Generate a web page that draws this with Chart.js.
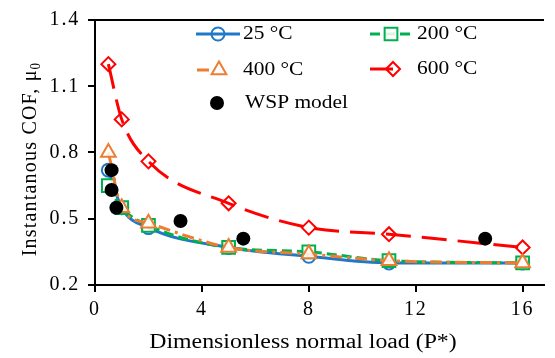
<!DOCTYPE html>
<html>
<head>
<meta charset="utf-8">
<script src="https://cdn.jsdelivr.net/npm/chart.js@4/dist/chart.umd.min.js"></script>
<style>
  html, body { margin: 0; padding: 0; background: #fff; }
  #wrap { width: 555px; height: 358px; }
</style>
</head>
<body>
<div id="wrap"><canvas id="c" width="555" height="358"></canvas></div>
<script>
// Dimensionless normal load P* for the measured series
const loads = [0.5, 1, 2, 5, 8, 11, 16];

// Instantaneous COF at each temperature
const cof25  = [0.72, 0.55, 0.46, 0.37, 0.33, 0.30, 0.30];
const cof200 = [0.65, 0.55, 0.47, 0.37, 0.35, 0.31, 0.30];
const cof400 = [0.80, 0.55, 0.48, 0.37, 0.34, 0.31, 0.30];
const cof600 = [1.20, 0.95, 0.76, 0.57, 0.46, 0.43, 0.37];

// WSP model predictions
const wspLoad = [0.62, 0.62, 0.80, 3.20, 5.55, 14.6];
const wspCof  = [0.72, 0.63, 0.55, 0.49, 0.41, 0.41];

// Axis ticks
const xTicks = [0, 4, 8, 12, 16];
const yTicks = [0.2, 0.5, 0.8, 1.1, 1.4];

const seriesNames = ['25 °C', '200 °C', '400 °C', '600 °C', 'WSP model'];
const xTitle = 'Dimensionless normal load (P*)';
const yTitle = 'Instantanous COF, μ';
const yTitleSub = '0';

const SERIF = '"Liberation Serif", "Times New Roman", serif';
const WIDE = 1.19; // horizontal stretch of the serif lettering

function pts(xs, ys) { return xs.map((x, i) => ({ x: x, y: ys[i] })); }

const datasets = [
  { label: seriesNames[4], data: pts(wspLoad, wspCof), showLine: false,
    pointStyle: 'circle', pointRadius: 7, pointBorderWidth: 0,
    pointBackgroundColor: '#000', borderColor: '#000', backgroundColor: '#000', order: 0 },
  { label: seriesNames[2], data: pts(loads, cof400), borderColor: '#ED7D31', borderWidth: 3,
    borderDash: [12, 5, 3, 5], pointStyle: 'triangle', pointRadius: 8.5, pointBorderWidth: 2,
    pointBorderColor: '#ED7D31', pointBackgroundColor: 'rgba(255,255,255,0.85)', order: 1 },
  { label: seriesNames[1], data: pts(loads, cof200), borderColor: '#00B050', borderWidth: 3,
    borderDash: [10, 5], pointStyle: 'rect', pointRadius: 9, pointBorderWidth: 2,
    pointBorderColor: '#00B050', pointBackgroundColor: 'rgba(255,255,255,0.85)', order: 2 },
  { label: seriesNames[0], data: pts(loads, cof25), borderColor: '#1F78C8', borderWidth: 3,
    pointStyle: 'circle', pointRadius: 6.5, pointBorderWidth: 2,
    pointBorderColor: '#1F78C8', pointBackgroundColor: 'rgba(255,255,255,0)', order: 3 },
  { label: seriesNames[3], data: pts(loads, cof600), borderColor: '#FF0000', borderWidth: 3,
    borderDash: [25, 11], pointStyle: 'rectRot', pointRadius: 7, pointBorderWidth: 2,
    pointBorderColor: '#FF0000', pointBackgroundColor: 'rgba(255,255,255,0)', order: 4 }
];
datasets.forEach((d, i) => {
  d.fill = false;
  if (i > 0) { d.showLine = true; d.cubicInterpolationMode = 'monotone'; }
});

// Legend layout: two columns inside the plot area
const legendItems = [
  { name: seriesNames[0], ds: 3, x0: 196, x1: 240, mx: 218, tx: 243, y: 34 },
  { name: seriesNames[1], ds: 2, x0: 370, x1: 410, mx: 391, tx: 417, y: 34 },
  { name: seriesNames[2], ds: 1, x0: 197, x1: 212, mx: 219, tx: 243, y: 70 },
  { name: seriesNames[3], ds: 4, x0: 370, x1: 393, mx: 393, tx: 417, y: 69 },
  { name: seriesNames[4], ds: 0, x0: null, x1: null, mx: 217, tx: 245, y: 103 }
];

// Draw text stretched horizontally about its anchor
function wideText(ctx, text, x, y, align) {
  ctx.save();
  ctx.translate(x, y);
  ctx.scale(WIDE, 1);
  ctx.textAlign = align;
  ctx.fillText(text, 0, 0);
  ctx.restore();
}

const decor = {
  id: 'decor',
  beforeDraw(chart) {
    chart.ctx.letterSpacing = '1.8px';
  },
  afterDraw(chart) {
    const ctx = chart.ctx;
    const a = chart.chartArea;
    ctx.save();
    ctx.letterSpacing = '0px';
    // top frame line
    ctx.strokeStyle = '#000';
    ctx.lineWidth = 2;
    ctx.beginPath();
    ctx.moveTo(a.left - 1, a.top);
    ctx.lineTo(a.right, a.top);
    ctx.stroke();

    // legend
    legendItems.forEach(it => {
      const d = chart.data.datasets[it.ds];
      if (it.x0 !== null) {
        ctx.save();
        ctx.strokeStyle = d.borderColor;
        ctx.lineWidth = 3;
        ctx.setLineDash(d.borderDash || []);
        ctx.beginPath();
        ctx.moveTo(it.x0, it.y);
        ctx.lineTo(it.x1, it.y);
        ctx.stroke();
        ctx.restore();
      }
      ctx.save();
      ctx.setLineDash([]);
      ctx.fillStyle = d.pointBackgroundColor;
      ctx.strokeStyle = d.pointBorderColor || d.borderColor;
      ctx.lineWidth = d.pointBorderWidth;
      Chart.helpers.drawPoint(ctx, {
        pointStyle: d.pointStyle, radius: d.pointRadius, rotation: 0,
        borderWidth: d.pointBorderWidth
      }, it.mx, it.y);
      ctx.restore();
      ctx.save();
      ctx.font = '18px ' + SERIF;
      ctx.fillStyle = '#000';
      ctx.textBaseline = 'middle';
      wideText(ctx, it.name, it.tx, it.y, 'left');
      ctx.restore();
    });

    // x axis title
    ctx.save();
    ctx.font = '20px ' + SERIF;
    ctx.fillStyle = '#000';
    ctx.textBaseline = 'alphabetic';
    wideText(ctx, xTitle, 303, 348, 'center');
    ctx.restore();

    // y axis title with subscript
    ctx.save();
    ctx.letterSpacing = '1.2px';
    ctx.fillStyle = '#000';
    ctx.translate(36, 159);
    ctx.rotate(-Math.PI / 2);
    ctx.scale(1, 1.1);
    ctx.font = '20px ' + SERIF;
    const w1 = ctx.measureText(yTitle).width;
    ctx.font = '13px ' + SERIF;
    const w2 = ctx.measureText(yTitleSub).width;
    const start = -(w1 + w2) / 2;
    ctx.textAlign = 'left';
    ctx.textBaseline = 'alphabetic';
    ctx.font = '20px ' + SERIF;
    ctx.fillText(yTitle, start, 0);
    ctx.font = '13px ' + SERIF;
    ctx.fillText(yTitleSub, start + w1, 4);
    ctx.restore();

    ctx.restore();
  }
};

new Chart(document.getElementById('c'), {
  type: 'scatter',
  data: { datasets: datasets },
  options: {
    responsive: false,
    animation: false,
    devicePixelRatio: 1,
    layout: { padding: { top: 15, right: 0, left: 0, bottom: 0 } },
    plugins: { legend: { display: false }, tooltip: { enabled: false } },
    scales: {
      x: {
        type: 'linear', min: 0, max: 16.8,
        afterFit(s) { s.height = 73; },
        afterBuildTicks(s) { s.ticks = xTicks.map(v => ({ value: v })); },
        grid: { drawOnChartArea: false, drawTicks: true, tickLength: 7, color: '#000', lineWidth: 2 },
        border: { display: true, color: '#000', width: 2 },
        ticks: { color: '#000', font: { family: SERIF, size: 20 }, padding: 6, maxRotation: 0,
                 callback: v => String(v) }
      },
      y: {
        type: 'linear', min: 0.2, max: 1.4,
        afterFit(s) { s.width = 95; },
        afterBuildTicks(s) { s.ticks = yTicks.map(v => ({ value: v })); },
        grid: { drawOnChartArea: false, drawTicks: true, tickLength: 7, color: '#000', lineWidth: 2 },
        border: { display: true, color: '#000', width: 2 },
        ticks: { color: '#000', font: { family: SERIF, size: 20 }, padding: 8,
                 callback: v => Number(v).toFixed(1) }
      }
    }
  },
  plugins: [decor]
});
</script>
</body>
</html>
